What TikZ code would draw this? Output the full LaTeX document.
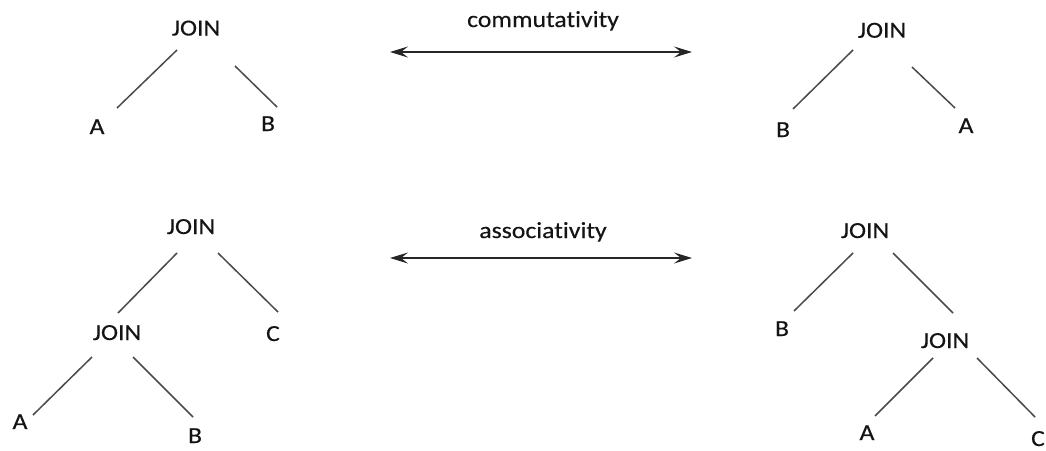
\documentclass[tikz,border=0pt]{standalone}
\usepackage{fontspec}
\setmainfont[FakeStretch=1.12,FakeBold=0.3,Ligatures=NoCommon]{Carlito}
\usetikzlibrary{arrows.meta}
\definecolor{txt}{HTML}{141414}
\definecolor{edgec}{HTML}{4A4A4A}
\definecolor{arrc}{HTML}{262626}
\tikzset{
  lbl/.style={anchor=base,inner sep=0pt,text=txt,font=\fontsize{23}{26}\selectfont},
  edge/.style={draw=edgec,line width=1.5pt},
  rel/.style={draw=arrc,line width=1.5pt,{Stealth[length=18pt,width=11pt,inset=7pt]}-{Stealth[length=18pt,width=11pt,inset=7pt]}}
}
\begin{document}
\begin{tikzpicture}[x=1pt,y=-1pt]
\useasboundingbox[fill=white] (0,0) rectangle (1046,450);
% top-left tree
\node[lbl] (j1) at (196,35.5) {JOIN};
\node[lbl] (a1) at (97,134) {A};
\node[lbl] (b1) at (268,131) {B};
\draw[edge] ([shift={(-19,14.5)}]j1.base) -- ([shift={(20,-26)}]a1.base);
\draw[edge] ([shift={(39,30.5)}]j1.base) -- ([shift={(9,-24)}]b1.base);
% commutativity
\node[lbl] (t1) at (543,27) {commutativity};
\coordinate (c1l) at (390,52);
\coordinate (c1r) at (692,52);
\draw[rel] (c1l) -- (c1r);
% top-right tree
\node[lbl] (j2) at (882,37.7) {JOIN};
\node[lbl] (b2) at (783,137) {B};
\node[lbl] (a2) at (966,133) {A};
\draw[edge] ([shift={(-29,12.3)}]j2.base) -- ([shift={(10,-28)}]b2.base);
\draw[edge] ([shift={(30,29.3)}]j2.base) -- ([shift={(-11,-25)}]a2.base);
% bottom-left tree
\node[lbl] (j3) at (191,234) {JOIN};
\node[lbl] (j4) at (117,340) {JOIN};
\node[lbl] (c3) at (273,341) {C};
\node[lbl] (a3) at (20,429) {A};
\node[lbl] (b3) at (195,443) {B};
\draw[edge] ([shift={(-14,19)}]j3.base) -- ([shift={(1,-27)}]j4.base);
\draw[edge] ([shift={(27,19)}]j3.base) -- ([shift={(5,-29)}]c3.base);
\draw[edge] ([shift={(-25,17)}]j4.base) -- ([shift={(13,-14)}]a3.base);
\draw[edge] ([shift={(16,17)}]j4.base) -- ([shift={(-2,-26)}]b3.base);
% associativity
\node[lbl] (t2) at (543,238) {associativity};
\coordinate (c2l) at (390,258);
\coordinate (c2r) at (692,258);
\draw[rel] (c2l) -- (c2r);
% bottom-right tree
\node[lbl] (j5) at (865,238) {JOIN};
\node[lbl] (b5) at (782,336) {B};
\node[lbl] (j6) at (945,348) {JOIN};
\node[lbl] (a5) at (867,440) {A};
\node[lbl] (c5) at (1038,446) {C};
\draw[edge] ([shift={(-12,15)}]j5.base) -- ([shift={(12,-25)}]b5.base);
\draw[edge] ([shift={(28,15)}]j5.base) -- ([shift={(8,-35)}]j6.base);
\draw[edge] ([shift={(-12,10)}]j6.base) -- ([shift={(8,-24)}]a5.base);
\draw[edge] ([shift={(32,10)}]j6.base) -- ([shift={(-3,-29)}]c5.base);
\end{tikzpicture}
\end{document}
